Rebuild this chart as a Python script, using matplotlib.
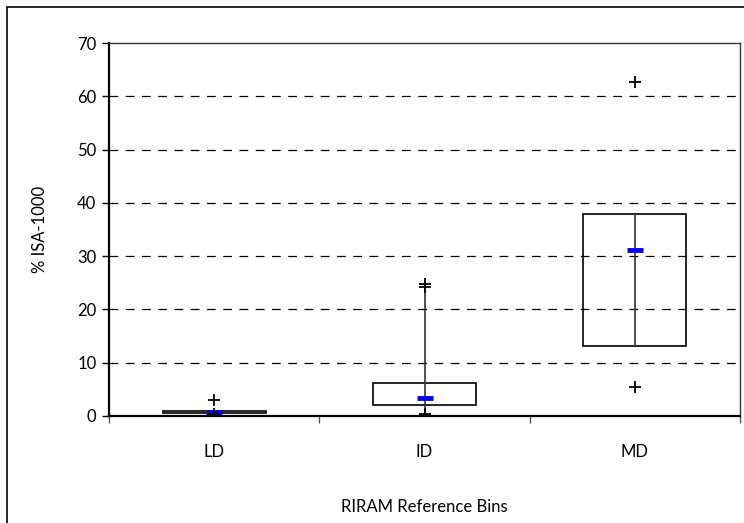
import numpy as np
import matplotlib.pyplot as plt
from matplotlib.patches import Rectangle

cats = ['LD', 'ID', 'MD']
q1 = [0.6, 2.1, 13.2]
q3 = [1.0, 6.2, 37.9]
med = [0.8, 3.4, 31.1]
line_lo = [0.6, 0.3, 13.2]
line_hi = [1.0, 24.5, 37.9]
out_x = [0, 0, 1, 1, 1, 2, 2]
out_y = [3.0, 0.3, 24.7, 24.2, 0.3, 62.6, 5.5]

plt.rcParams['font.family'] = ['Lato', 'DejaVu Sans']

fig = plt.figure(figsize=(7.44, 5.23), dpi=100)
fig.patches.append(Rectangle((7/744, -0.1), 1.2, (523-7)/523 + 0.1, transform=fig.transFigure,
                             fill=False, edgecolor='black', linewidth=1.2))
ax = fig.add_axes([109/744, 1-416/523, 631/744, 373/523])

x = np.arange(len(cats))
ax.vlines(x, line_lo, line_hi, color='#333333', linewidth=1.2, zorder=4)
ax.bar(x, np.array(q3) - np.array(q1), bottom=q1, width=0.49, fill=False,
       edgecolor='black', linewidth=1.2, zorder=3)
ax.plot(x, med, linestyle='none', marker='_', markersize=11, mew=3.5, color='#0000ee', zorder=5)
ax.plot(out_x, out_y, linestyle='none', marker='+', markersize=9, mew=1.3, color='black', zorder=5)

ax.set_xlim(-0.5, 2.5)
ax.set_ylim(0, 70)
ax.set_yticks(range(0, 71, 10))
ax.set_xticks(x)
ax.set_xticklabels(cats)
ax.set_xticks([-0.5, 0.5, 1.5, 2.5], minor=True)
ax.tick_params(axis='x', which='major', length=0, pad=20, labelsize=12)
ax.tick_params(axis='x', which='minor', length=5, width=1, color='#555555')
ax.tick_params(axis='y', length=5, width=1, labelsize=12, pad=4)

for v in range(10, 70, 10):
    ax.axhline(v, color='black', linestyle=(0, (7, 6)), linewidth=0.9, zorder=1)

for s in ['top', 'right']:
    ax.spines[s].set_color('#333333')
    ax.spines[s].set_linewidth(1)
for s in ['left', 'bottom']:
    ax.spines[s].set_linewidth(1.6)

ax.set_ylabel('% ISA-1000', fontsize=12)
ax.yaxis.set_label_coords(-0.097, 0.5)
ax.set_xlabel('RIRAM Reference Bins', fontsize=12)
ax.xaxis.set_label_coords(0.5, -0.222)

fig.savefig('out.png', dpi=100)
